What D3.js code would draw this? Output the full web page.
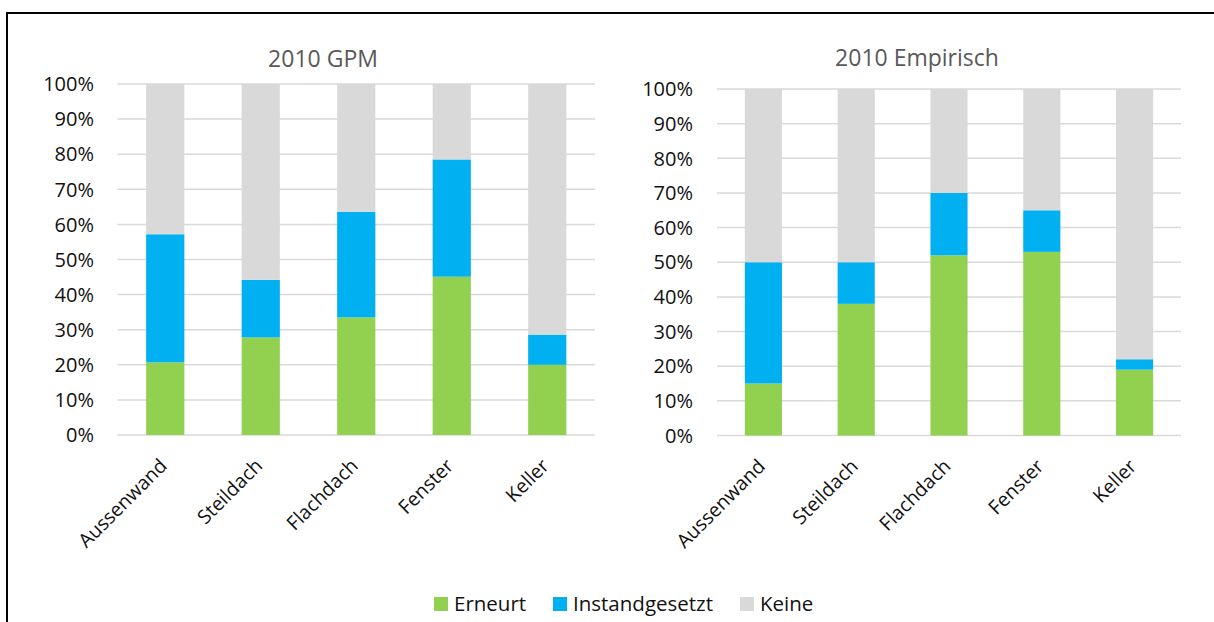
<!DOCTYPE html>
<html>
<head>
<meta charset="utf-8">
<script src="https://cdn.jsdelivr.net/npm/d3@7"></script>
<style>
  html, body { margin: 0; padding: 0; background: #fff; }
  svg { display: block; font-family: "Open Sans", sans-serif; }
</style>
</head>
<body>
<div id="chart"></div>
<script>
// categories and series (shares in percent)
var categories = ['Aussenwand', 'Steildach', 'Flachdach', 'Fenster', 'Keller'];
var seriesNames = ['Erneurt', 'Instandgesetzt', 'Keine'];
var gpmErneuert = [20.7, 27.8, 33.5, 45.1, 20.0];
var gpmInstand = [36.5, 16.4, 30.1, 33.4, 8.6];
var empErneuert = [15, 38, 52, 53, 19];
var empInstand = [35, 12, 18, 12, 3];
var yTicks = [0, 10, 20, 30, 40, 50, 60, 70, 80, 90, 100];
var titles = ['2010 GPM', '2010 Empirisch'];

var colors = ['#92d050', '#00b0f0', '#d9d9d9'];

var width = 1214, height = 622;
var svg = d3.select('#chart').append('svg')
    .attr('width', width)
    .attr('height', height);

// outer frame
svg.append('rect')
    .attr('x', 7).attr('y', 13)
    .attr('width', 1220).attr('height', 640)
    .attr('fill', 'none')
    .attr('stroke', '#000')
    .attr('stroke-width', 2);

function rows(erneuert, instand) {
    return categories.map(function(c, i) {
        return {
            cat: c,
            Erneurt: erneuert[i],
            Instandgesetzt: instand[i],
            Keine: 100 - erneuert[i] - instand[i]
        };
    });
}

var panels = [
    { title: titles[0], data: rows(gpmErneuert, gpmInstand), x0: 117.5, x1: 595, y0: 435, y1: 84, tickX: 94, titleX: 323, titleY: 67 },
    { title: titles[1], data: rows(empErneuert, empInstand), x0: 717, x1: 1181, y0: 435.5, y1: 89, tickX: 693, titleX: 917, titleY: 66 }
];

var stack = d3.stack().keys(seriesNames);

panels.forEach(function(p) {
    var g = svg.append('g');
    var x = d3.scaleBand()
        .domain(categories)
        .range([p.x0, p.x1])
        .paddingInner(0.6)
        .paddingOuter(0.3);
    var y = d3.scaleLinear().domain([0, 100]).range([p.y0, p.y1]);

    // gridlines
    g.selectAll('.grid')
        .data(yTicks)
        .enter()
        .append('line')
        .attr('x1', p.x0).attr('x2', p.x1)
        .attr('y1', function(d) { return y(d); })
        .attr('y2', function(d) { return y(d); })
        .attr('stroke', '#d9d9d9')
        .attr('stroke-width', 1.5);

    // y tick labels
    g.selectAll('.ytick')
        .data(yTicks)
        .enter()
        .append('text')
        .attr('x', p.tickX)
        .attr('y', function(d) { return y(d); })
        .attr('dy', '0.36em')
        .attr('text-anchor', 'end')
        .attr('font-size', 20)
        .attr('fill', '#111')
        .text(function(d) { return d + '%'; });

    // bars
    var layers = g.selectAll('.layer')
        .data(stack(p.data))
        .enter()
        .append('g')
        .attr('fill', function(d, i) { return colors[i]; });
    layers.selectAll('rect')
        .data(function(d) { return d; })
        .enter()
        .append('rect')
        .attr('x', function(d) { return x(d.data.cat); })
        .attr('width', x.bandwidth())
        .attr('y', function(d) { return y(d[1]); })
        .attr('height', function(d) { return y(d[0]) - y(d[1]); });

    // category labels
    g.selectAll('.xlab')
        .data(categories)
        .enter()
        .append('text')
        .attr('transform', function(d) {
            return 'translate(' + (x(d) + x.bandwidth() / 2 + 3) + ',' + (p.y0 + 32) + ') rotate(-45)';
        })
        .attr('text-anchor', 'end')
        .attr('font-size', 19.5)
        .attr('fill', '#111')
        .text(function(d) { return d; });

    // title
    g.append('text')
        .attr('x', p.titleX)
        .attr('y', p.titleY)
        .attr('text-anchor', 'middle')
        .attr('font-size', 23)
        .attr('fill', '#595959')
        .text(p.title);
});

// legend
var legendItems = [
    { name: seriesNames[0], x: 434 },
    { name: seriesNames[1], x: 553 },
    { name: seriesNames[2], x: 740 }
];
var legend = svg.selectAll('.legend')
    .data(legendItems)
    .enter()
    .append('g')
    .attr('transform', function(d) { return 'translate(' + d.x + ',597)'; });
legend.append('rect')
    .attr('width', 14).attr('height', 14)
    .attr('fill', function(d, i) { return colors[i]; });
legend.append('text')
    .attr('x', 20)
    .attr('y', 7)
    .attr('dy', '0.36em')
    .attr('font-size', 20.5)
    .attr('fill', '#111')
    .text(function(d) { return d.name; });
</script>
</body>
</html>
